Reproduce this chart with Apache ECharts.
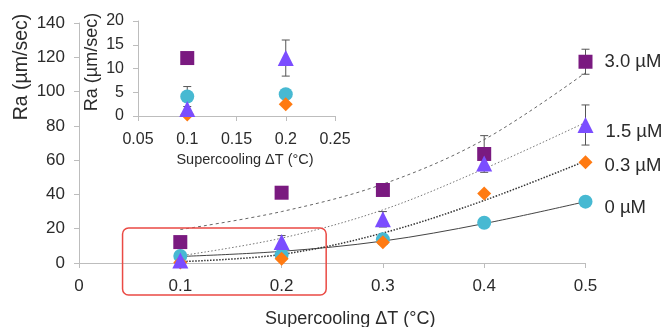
<!DOCTYPE html>
<html>
<head>
<meta charset="utf-8">
<script src="https://cdn.jsdelivr.net/npm/echarts@6/dist/echarts.min.js"></script>
<style>
html,body{margin:0;padding:0;background:#fff;}
#chart{width:664px;height:327px;}
</style>
</head>
<body>
<div id="chart"></div>
<script>
// ---- data ----
const xValues = [0.1, 0.2, 0.3, 0.4, 0.5];
const seriesNames = ['0 µM', '0.3 µM', '1.5 µM', '3.0 µM'];
const ra0  = [4.1, 4.6, 13.8, 23.5, 35.8];
const ra03 = [0.3, 2.5, 12.1, 40.6, 58.7];
const ra15 = [1.5, 12.2, 25.5, 58.1, 80.5];
const ra30 = [12.2, 41.0, 42.6, 63.6, 117.4];
const err0  = [2.1, 0, 0, 0, 0];
const err03 = [0, 0, 0, 0, 0];
const err15 = [0, 3.8, 4.5, 3.8, 11.7];
const err30 = [0, 0, 0, 10.7, 7.3];
// trendlines
const fit0  = [3.8, 6.8, 12.8, 23.0, 35.8];
const fit03 = [0.8, 5.0, 17.5, 36.5, 59.5];
const fit15 = [4.2, 14.5, 31.0, 55.0, 82.0];
const fit30 = [19.5, 30.0, 46.0, 72.0, 111.0];
// inset shows only the first two supercooling values
const insetCount = 2;
// highlight box (data coordinates of main chart)
const boxX = [0.043, 0.244];
const boxY = [-18.7, 20.4];

const FONT = '"Liberation Sans", Arial, Helvetica, sans-serif';
const TXT = '#2b2b2b';
const AX = '#bdbdbd';

const styles = [
  {symbol: 'circle', size: 14, color: '#47B9D2', fit: {color: '#444', type: 'solid', width: 1}, dy: 6},
  {symbol: 'diamond', size: 14, color: '#FF7A12', fit: {color: '#333', type: [1.5, 1.5], width: 1.5}, dy: 4},
  {symbol: 'triangle', size: 16, color: '#7B4DFF', fit: {color: '#777', type: [1.5, 2], width: 1}, dy: 7},
  {symbol: 'rect', size: 14, color: '#7A1A80', fit: {color: '#666', type: [3, 3], width: 1}, dy: 0}
];
const values = [ra0, ra03, ra15, ra30];
const errs = [err0, err03, err15, err30];
const fits = [fit0, fit03, fit15, fit30];
const drawOrder = [0, 1, 3, 2];

function errorRender(params, api) {
  const x = api.value(0), lo = api.value(1), hi = api.value(2);
  const p1 = api.coord([x, lo]), p2 = api.coord([x, hi]);
  const w = 4;
  const st = {stroke: '#555', lineWidth: 1};
  return {type: 'group', children: [
    {type: 'line', shape: {x1: p1[0], y1: p1[1], x2: p2[0], y2: p2[1]}, style: st},
    {type: 'line', shape: {x1: p1[0]-w, y1: p1[1], x2: p1[0]+w, y2: p1[1]}, style: st},
    {type: 'line', shape: {x1: p2[0]-w, y1: p2[1], x2: p2[0]+w, y2: p2[1]}, style: st}
  ]};
}

const series = [];
fits.forEach((f, i) => {
  series.push({
    type: 'line', xAxisIndex: 0, yAxisIndex: 0, smooth: 0.35, showSymbol: false, silent: true, z: 1,
    data: xValues.map((x, j) => [x, f[j]]),
    lineStyle: styles[i].fit
  });
});
[0, 1].forEach(g => {
  errs.forEach((e, i) => {
    const n = g === 0 ? xValues.length : insetCount;
    const d = [];
    for (let j = 0; j < n; j++) if (e[j] > 0) d.push([xValues[j], values[i][j] - e[j], values[i][j] + e[j]]);
    if (d.length) series.push({type: 'custom', xAxisIndex: g, yAxisIndex: g, z: 2, silent: true, renderItem: errorRender, data: d});
  });
});
[0, 1].forEach(g => {
  drawOrder.forEach((i, k) => {
    const s = styles[i];
    const n = g === 0 ? xValues.length : insetCount;
    const d = [];
    for (let j = 0; j < n; j++) {
      const item = {value: [xValues[j], values[i][j]]};
      if (g === 0 && j === n - 1) {
        item.label = {show: true, formatter: seriesNames[i], position: 'right', distance: 12,
          offset: [0, s.dy], color: TXT, fontSize: 18.5, fontFamily: FONT};
      }
      d.push(item);
    }
    series.push({
      type: 'scatter', name: seriesNames[i], xAxisIndex: g, yAxisIndex: g, z: 3 + k,
      symbol: s.symbol, symbolSize: s.size,
      itemStyle: {color: s.color, opacity: 1}, clip: true, data: d
    });
  });
});

function axisCommon(fontSize, margin) {
  return {
    nameMoveOverlap: false,
    axisLine: {show: true, onZero: false, lineStyle: {color: AX, width: 1}},
    axisTick: {show: true, inside: false, length: 5, lineStyle: {color: AX}},
    splitLine: {show: false},
    axisLabel: {color: TXT, fontSize: fontSize, fontFamily: FONT, margin: margin}
  };
}

const option = {
  animation: false,
  backgroundColor: '#fff',
  textStyle: {fontFamily: FONT},
  grid: [
    {left: 79, top: 23, width: 506.5, height: 240, containLabel: false, outerBoundsMode: 'none'},
    {left: 138, top: 21, width: 197, height: 95, containLabel: false, outerBoundsMode: 'none'}
  ],
  xAxis: [
    Object.assign(axisCommon(17, 15), {
      type: 'value', gridIndex: 0, min: 0, max: 0.5, interval: 0.1,
      name: 'Supercooling ΔT (°C)', nameLocation: 'middle', nameGap: 47,
      nameTextStyle: {color: TXT, fontSize: 18, fontFamily: FONT, padding: [0, 0, 0, 36]}
    }),
    Object.assign(axisCommon(16, 16), {
      type: 'value', gridIndex: 1, min: 0.05, max: 0.25, interval: 0.05,
      name: 'Supercooling ΔT (°C)', nameLocation: 'middle', nameGap: 36,
      nameTextStyle: {color: TXT, fontSize: 14.5, fontFamily: FONT, padding: [0, 0, 0, 17]}
    })
  ],
  yAxis: [
    Object.assign(axisCommon(17, 14), {
      type: 'value', gridIndex: 0, min: 0, max: 140, interval: 20,
      name: 'Ra (µm/sec)', nameLocation: 'middle', nameGap: 47, nameRotate: 90,
      nameTextStyle: {color: TXT, fontSize: 19.5, fontFamily: FONT, padding: [0, 0, 0, 152]}
    }),
    Object.assign(axisCommon(16, 14), {
      type: 'value', gridIndex: 1, min: 0, max: 20, interval: 5,
      name: 'Ra (µm/sec)', nameLocation: 'middle', nameGap: 37, nameRotate: 90,
      nameTextStyle: {color: TXT, fontSize: 18, fontFamily: FONT, padding: [0, 0, 0, 13]}
    })
  ],
  series: series
};

const chart = echarts.init(document.getElementById('chart'), null, {renderer: 'canvas'});
chart.setOption(option);

const pA = chart.convertToPixel({gridIndex: 0}, [boxX[0], boxY[1]]);
const pB = chart.convertToPixel({gridIndex: 0}, [boxX[1], boxY[0]]);
chart.setOption({
  graphic: [{
    type: 'rect', z: 50, silent: true,
    shape: {x: pA[0], y: pA[1], width: pB[0] - pA[0], height: pB[1] - pA[1], r: 6},
    style: {fill: 'none', stroke: '#EA4A44', lineWidth: 1.5}
  }]
});
</script>
</body>
</html>
